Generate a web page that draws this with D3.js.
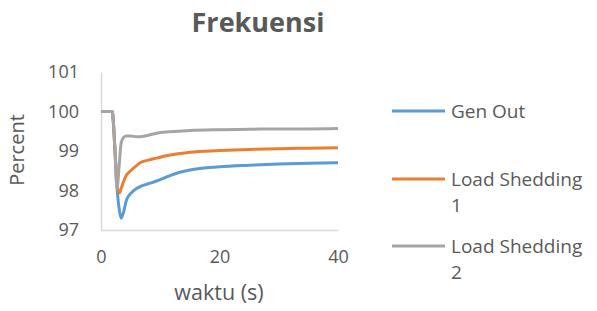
<!DOCTYPE html>
<html>
<head>
<meta charset="utf-8">
<script src="https://cdn.jsdelivr.net/npm/d3@7"></script>
<style>
  body { margin: 0; background: #fff; }
  text { font-family: "Open Sans", sans-serif; fill: #595959; }
</style>
</head>
<body>
<div id="chart"></div>
<script>
// values (time in s, frequency in percent)
var time = [0, 1, 1.9, 2.1, 2.4, 2.7, 3.1, 3.4, 3.8, 4.3, 5, 6, 6.6, 8, 9.4, 11, 13, 15, 20, 25, 30, 35, 40];
var genOut = [100, 100, 100, 99.7, 98.9, 98.1, 97.5, 97.3, 97.45, 97.76, 97.92, 98.05, 98.1, 98.17, 98.24, 98.34, 98.45, 98.52, 98.6, 98.64, 98.67, 98.69, 98.7];
var loadShed1 = [100, 100, 100, 99.7, 98.9, 98.1, 97.94, 98.05, 98.22, 98.39, 98.5, 98.63, 98.7, 98.77, 98.82, 98.88, 98.93, 98.97, 99.01, 99.04, 99.06, 99.07, 99.08];
var loadShed2 = [100, 100, 100, 99.7, 98.9, 98.05, 98.7, 99.2, 99.34, 99.38, 99.38, 99.36, 99.36, 99.4, 99.45, 99.48, 99.5, 99.52, 99.54, 99.55, 99.56, 99.56, 99.57];
var yTicks = [97, 98, 99, 100, 101];
var xTicks = [0, 20, 40];
var seriesNames = ["Gen Out", "Load Shedding 1", "Load Shedding 2"];
var colors = ["#5B9BD5", "#ED7D31", "#A5A5A5"];

var w = 597, h = 311;
var svg = d3.select("#chart").append("svg")
    .attr("width", w)
    .attr("height", h);

var xScale = d3.scaleLinear().domain([0, 40]).range([101, 338]);
var yScale = d3.scaleLinear().domain([97, 101]).range([230, 72]);

svg.append("text")
    .attr("x", 258)
    .attr("y", 32)
    .attr("text-anchor", "middle")
    .style("font-size", "27px")
    .style("font-weight", "bold")
    .text("Frekuensi");

// axes
var yAxis = d3.axisLeft(yScale).tickValues(yTicks).tickFormat(d3.format("d")).tickSize(0).tickPadding(22);
var gy = svg.append("g")
    .attr("transform", "translate(" + xScale(0) + ",0)")
    .call(yAxis);
gy.select(".domain").attr("stroke", "#d9d9d9").attr("stroke-width", 1.5);
gy.selectAll("text").style("font-size", "18px").style("fill", "#595959");

var xAxis = d3.axisBottom(xScale).tickValues(xTicks).tickFormat(d3.format("d")).tickSize(0).tickPadding(20);
var gx = svg.append("g")
    .attr("transform", "translate(0," + yScale(97) + ")")
    .call(xAxis);
gx.select(".domain").attr("stroke", "#d9d9d9").attr("stroke-width", 1.5);
gx.selectAll("text").style("font-size", "18px").style("fill", "#595959");

svg.append("text")
    .attr("transform", "translate(24,150) rotate(-90)")
    .attr("text-anchor", "middle")
    .style("font-size", "20px")
    .text("Percent");

svg.append("text")
    .attr("x", 219)
    .attr("y", 300)
    .attr("text-anchor", "middle")
    .style("font-size", "21.5px")
    .text("waktu (s)");

// lines
var line = d3.line()
    .x(function(d) { return xScale(d[0]); })
    .y(function(d) { return yScale(d[1]); })
    .curve(d3.curveMonotoneX);

[genOut, loadShed1, loadShed2].forEach(function(vals, i) {
    svg.append("path")
        .datum(time.map(function(t, j) { return [t, vals[j]]; }))
        .attr("fill", "none")
        .attr("stroke", colors[i])
        .attr("stroke-width", 3)
        .attr("stroke-linejoin", "round")
        .attr("d", line);
});

// legend (second word row of wrapped names as its own text)
var legendY = [111, 179, 246];
seriesNames.forEach(function(name, i) {
    var g = svg.append("g").attr("transform", "translate(392," + legendY[i] + ")");
    g.append("line")
        .attr("x1", 0).attr("x2", 53)
        .attr("stroke", colors[i])
        .attr("stroke-width", 3);
    var words = name.match(/^(.*?)( \d)?$/);
    g.append("text")
        .attr("x", 59)
        .attr("y", 7)
        .style("font-size", "19px")
        .text(words[1]);
    if (words[2]) {
        g.append("text")
            .attr("x", 59)
            .attr("y", 33)
            .style("font-size", "19px")
            .text(words[2].trim());
    }
});
</script>
</body>
</html>
